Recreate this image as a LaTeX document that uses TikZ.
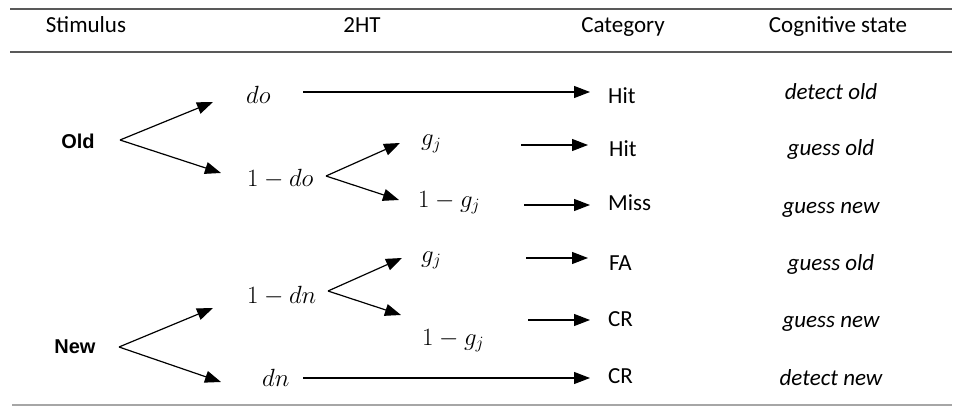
\documentclass[tikz,border=0pt]{standalone}
\usepackage{fontspec}
\setmainfont{Carlito}
\newfontfamily\arialfont{Liberation Sans}
\usetikzlibrary{arrows.meta}

\tikzset{
  arr/.style={line width=1.2pt, -{Triangle[length=16pt,width=12pt]}},
  lbl/.style={anchor=base west, inner sep=0pt},
  cog/.style={anchor=base, inner sep=0pt, font=\fontsize{23}{28}\selectfont\itshape},
  head/.style={anchor=base, inner sep=0pt},
  stim/.style={anchor=base, inner sep=0pt, font=\fontsize{20}{24}\arialfont\bfseries},
  rule/.style={line width=1.6pt, draw=black!65}
}

\begin{document}
\begin{tikzpicture}[x=1pt,y=-1pt,font=\fontsize{23}{28}\selectfont]
        \useasboundingbox (0,0) rectangle (957,406);
        % table rules
        \draw[rule] (10,9) -- (952,9);
        \draw[rule] (10,52) -- (952,52);
        \draw[rule,draw=black!35] (12,405) -- (952,405);

        % header
        \node[head] (hstim) at (86,33) {Stimulus};
        \node[head] (hht) at (362,33) {2HT};
        \node[head] (hcat) at (623,33) {Category};
        \node[head] (hcog) at (838,33) {Cognitive state};

        % stimuli
        \node[stim] (old) at (78,149) {Old};
        \node[stim] (new) at (75,353) {New};

        % parameters
        \node[lbl] (do) at (246,104) {$do$};
        \node[lbl] (omdo) at (247,186) {$1-do$};
        \node[lbl] (gold) at (421,146) {$g_j$};
        \node[lbl] (omgold) at (418,207) {$1-g_j$};
        \node[lbl] (omdn) at (247,303) {$1-dn$};
        \node[lbl] (gnew) at (421,262) {$g_j$};
        \node[lbl] (omgnew) at (422,345) {$1-g_j$};
        \node[lbl] (dn) at (262,386) {$dn$};

        % categories
        \node[lbl] (hita) at (608,104) {Hit};
        \node[lbl] (hitb) at (609,157) {Hit};
        \node[lbl] (miss) at (608,210) {Miss};
        \node[lbl] (fa) at (609,270) {FA};
        \node[lbl] (cra) at (608,326) {CR};
        \node[lbl] (crb) at (608,383) {CR};

        % cognitive states
        \node[cog] (sa) at (831,100) {detect old};
        \node[cog] (sb) at (831,156) {guess old};
        \node[cog] (sc) at (831,213) {guess new};
        \node[cog] (sd) at (831,270) {guess old};
        \node[cog] (se) at (831,327) {guess new};
        \node[cog] (sf) at (831,385) {detect new};

        % branch points and arrow ends
        \coordinate (old-r) at (120,140);
        \coordinate (do-l) at (213,102);
        \coordinate (omdo-l) at (221,173);
        \coordinate (omdo-r) at (326,176);
        \coordinate (gold-l) at (400,143);
        \coordinate (omgold-l) at (399,200);
        \coordinate (new-r) at (119,347);
        \coordinate (omdn-l) at (213,308);
        \coordinate (dn-l) at (221,382);
        \coordinate (omdn-r) at (328,291);
        \coordinate (gnew-l) at (402,258);
        \coordinate (omgnew-l) at (401,315);

        \draw[arr] (old-r) -- (do-l);
        \draw[arr] (old-r) -- (omdo-l);
        \draw[arr] (omdo-r) -- (gold-l);
        \draw[arr] (omdo-r) -- (omgold-l);
        \draw[arr] (new-r) -- (omdn-l);
        \draw[arr] (new-r) -- (dn-l);
        \draw[arr] (omdn-r) -- (gnew-l);
        \draw[arr] (omdn-r) -- (omgnew-l);

        % to the categories
        \draw[arr] (303,92) -- (590,92);
        \draw[arr] (521,145) -- (588,145);
        \draw[arr] (524,205) -- (590,205);
        \draw[arr] (526,258) -- (588,258);
        \draw[arr] (528,320) -- (590,320);
        \draw[arr] (303,378) -- (590,378);
\end{tikzpicture}
\end{document}
